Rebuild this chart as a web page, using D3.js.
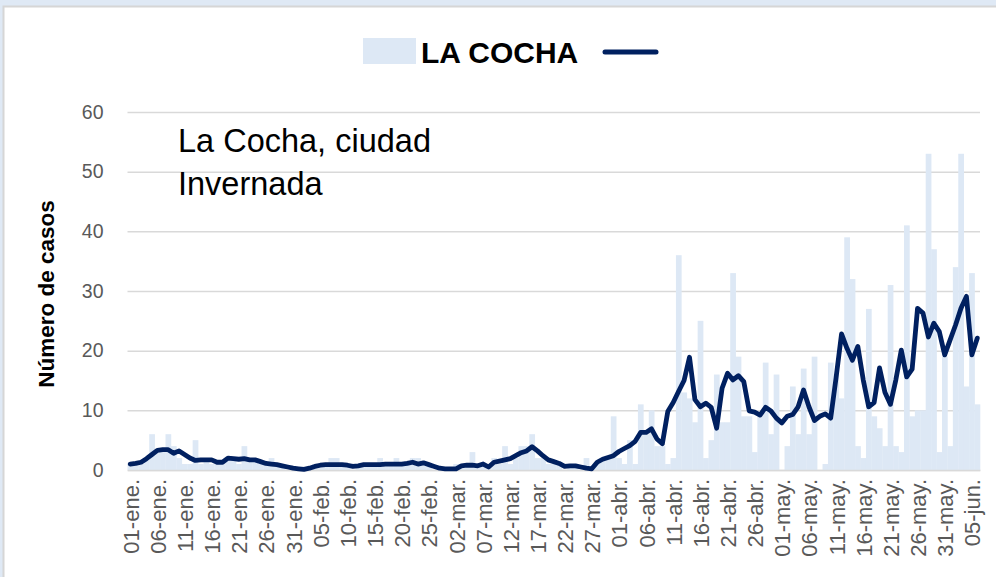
<!DOCTYPE html>
<html>
<head>
<meta charset="utf-8">
<script src="https://cdn.jsdelivr.net/npm/d3@7"></script>
<style>
  body { margin: 0; background: #dfe9f5; }
  svg { display: block; font-family: "Liberation Sans", Arial, sans-serif; }
</style>
</head>
<body>
<svg width="996" height="577"></svg>
<script>
const width = 996;
const height = 577;

// daily categories, 01-ene. to 06-jun.
const monthNames = ["ene.", "feb.", "mar.", "abr.", "may.", "jun."];
const days = d3.timeDay.range(new Date(2021, 0, 1), new Date(2021, 5, 7));
const categories = days.map(d => d3.timeFormat("%d")(d) + "-" + monthNames[d.getMonth()]);

const tickLabels = ["01-ene.", "06-ene.", "11-ene.", "16-ene.", "21-ene.", "26-ene.", "31-ene.",
  "05-feb.", "10-feb.", "15-feb.", "20-feb.", "25-feb.", "02-mar.", "07-mar.", "12-mar.",
  "17-mar.", "22-mar.", "27-mar.", "01-abr.", "06-abr.", "11-abr.", "16-abr.", "21-abr.",
  "26-abr.", "01-may.", "06-may.", "11-may.", "16-may.", "21-may.", "26-may.", "31-may.", "05-jun."];

const yTicks = [0, 10, 20, 30, 40, 50, 60];

// casos diarios
const cases = [
  1, 1, 1, 2, 6, 3, 3, 6, 4, 2,
  1, 1, 5, 1, 2, 1, 1, 1, 2, 2,
  1, 4, 2, 2, 1, 1, 2, 1, 1, 0,
  0, 0, 0, 0, 1, 1, 1, 2, 2, 1,
  1, 0, 1, 1, 1, 1, 2, 1, 1, 2,
  1, 1, 2, 2, 1, 1, 0, 0, 0, 0,
  1, 1, 1, 3, 1, 1, 1, 2, 1, 4,
  1, 2, 4, 4, 6, 2, 2, 1, 1, 1,
  0, 1, 1, 0, 2, 0, 1, 2, 2, 9,
  2, 1, 5, 1, 11, 6, 10, 4, 4, 1,
  2, 36, 13, 12, 8, 25, 2, 5, 16, 8,
  8, 33, 19, 9, 9, 3, 9, 18, 6, 16,
  0, 4, 14, 6, 17, 6, 19, 0, 1, 18,
  16, 12, 39, 32, 4, 2, 27, 9, 7, 4,
  31, 4, 3, 41, 9, 10, 10, 53, 37, 3,
  19, 4, 34, 53, 14, 33, 11
];

// linea (promedio)
const average = [
  1.0, 1.1, 1.3, 1.9, 2.6, 3.3, 3.4, 3.4, 2.8, 3.2,
  2.6, 2.0, 1.6, 1.7, 1.7, 1.7, 1.3, 1.3, 2.0, 1.9,
  1.8, 1.9, 1.7, 1.7, 1.4, 1.1, 1.0, 0.9, 0.7, 0.5,
  0.3, 0.2, 0.1, 0.3, 0.6, 0.8, 0.9, 0.9, 0.9, 0.9,
  0.8, 0.6, 0.7, 0.9, 0.9, 0.9, 0.9, 1.0, 1.0, 1.0,
  1.0, 1.1, 1.3, 1.0, 1.2, 0.9, 0.6, 0.3, 0.2, 0.2,
  0.2, 0.7, 0.8, 0.8, 0.7, 1.0, 0.5, 1.3, 1.5, 1.7,
  1.9, 2.4, 2.9, 3.2, 3.9, 3.2, 2.4, 1.7, 1.4, 1.1,
  0.6, 0.7, 0.7, 0.5, 0.3, 0.2, 1.3, 1.8, 2.1, 2.4,
  3.1, 3.6, 4.1, 4.8, 6.3, 6.3, 6.9, 5.2, 4.4, 9.8,
  11.3, 13.2, 15.0, 18.9, 11.8, 10.6, 11.2, 10.5, 7.0, 13.7,
  16.2, 15.1, 15.8, 14.8, 9.9, 9.7, 9.2, 10.5, 9.9, 8.7,
  7.9, 9.0, 9.3, 10.6, 13.4, 10.6, 8.3, 9.0, 9.4, 8.7,
  15.5, 22.8, 20.4, 18.4, 20.7, 15.1, 10.6, 11.3, 17.1, 13.0,
  11.0, 15.1, 20.1, 15.6, 16.9, 27.1, 26.3, 22.3, 24.6, 23.2,
  19.3, 21.8, 24.3, 27.1, 29.1, 19.3, 22.1
];

const svg = d3.select("svg");

// white chart panel on the light blue page
svg.append("rect")
  .attr("x", 3.5).attr("y", 6.5)
  .attr("width", 1010).attr("height", 600)
  .attr("fill", "#fff")
  .attr("stroke", "#d6d6d6")
  .attr("stroke-width", 2);

const x = d3.scaleBand().domain(categories).range([127.5, 980]).padding(0);
const y = d3.scaleLinear().domain([0, 60]).range([470, 112]);

// gridlines + y labels
const yAxis = svg.append("g")
  .attr("transform", "translate(127.5,0)")
  .call(d3.axisLeft(y).tickValues(yTicks).tickSize(-(980 - 127.5)).tickPadding(24));
yAxis.select(".domain").remove();
yAxis.selectAll("line").attr("stroke", "#d9d9d9").attr("stroke-width", 1.5);
yAxis.selectAll("text")
  .attr("fill", "#595959")
  .attr("font-size", 19.5)
  .attr("font-family", "Liberation Sans, Arial, sans-serif");

// bars
svg.append("g")
  .selectAll("rect")
  .data(cases)
  .join("rect")
  .attr("x", (d, i) => x(categories[i]))
  .attr("width", x.bandwidth() + 0.3)
  .attr("y", d => y(d))
  .attr("height", d => y(0) - y(d))
  .attr("fill", "#dde8f5");

// x axis
const xAxis = svg.append("g")
  .attr("transform", "translate(0,470)")
  .call(d3.axisBottom(x).tickValues(tickLabels).tickSize(0));
xAxis.select(".domain").attr("stroke", "#d9d9d9").attr("stroke-width", 1.5);
xAxis.selectAll("text")
  .attr("fill", "#595959")
  .attr("font-size", 22)
  .attr("font-family", "Liberation Sans, Arial, sans-serif")
  .attr("text-anchor", "end")
  .attr("dy", null)
  .attr("y", 0)
  .attr("transform", "translate(1,9) rotate(-90)")
  .attr("dominant-baseline", "central");

// average line
const line = d3.line()
  .x((d, i) => x(categories[i]) + x.bandwidth() / 2)
  .y(d => y(d));

svg.append("path")
  .datum(average)
  .attr("d", line)
  .attr("fill", "none")
  .attr("stroke", "#002060")
  .attr("stroke-width", 4.8)
  .attr("stroke-linejoin", "round")
  .attr("stroke-linecap", "round");

// y title
svg.append("text")
  .attr("transform", "translate(54,294) rotate(-90)")
  .attr("text-anchor", "middle")
  .attr("font-size", 22.5)
  .attr("font-weight", "bold")
  .attr("fill", "#000")
  .text("Número de casos");

// annotation
svg.append("text")
  .attr("x", 178).attr("y", 152)
  .attr("font-size", 32.5)
  .attr("fill", "#000")
  .text("La Cocha, ciudad");
svg.append("text")
  .attr("x", 178).attr("y", 195)
  .attr("font-size", 32.5)
  .attr("fill", "#000")
  .text("Invernada");

// legend
const legend = svg.append("g");
legend.append("rect")
  .attr("x", 363).attr("y", 38)
  .attr("width", 53).attr("height", 26)
  .attr("fill", "#dde8f5");
legend.append("text")
  .attr("x", 421).attr("y", 63)
  .attr("font-size", 30)
  .attr("font-weight", "bold")
  .attr("fill", "#000")
  .text("LA COCHA");
legend.append("line")
  .attr("x1", 605).attr("x2", 656)
  .attr("y1", 52).attr("y2", 52)
  .attr("stroke", "#002060")
  .attr("stroke-width", 5)
  .attr("stroke-linecap", "round");
</script>
</body>
</html>
